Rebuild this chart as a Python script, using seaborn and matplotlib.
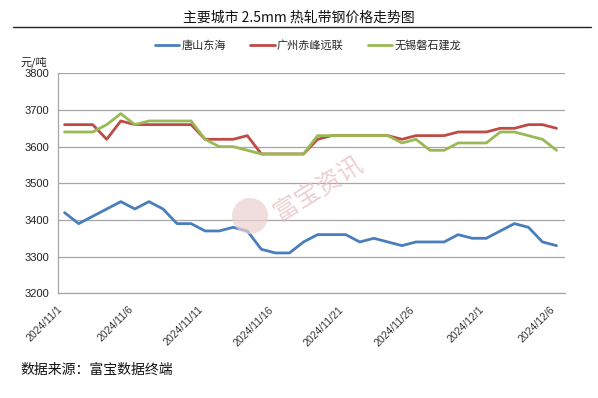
import matplotlib
matplotlib.use("Agg")
import matplotlib.pyplot as plt
import seaborn as sns
import pandas as pd
import numpy as np
from matplotlib.patches import Ellipse
from matplotlib.lines import Line2D

# ---- data ----
dates = pd.date_range("2024-11-01", "2024-12-06", freq="D")
tick_labels = ["2024/11/1", "2024/11/6", "2024/11/11", "2024/11/16",
               "2024/11/21", "2024/11/26", "2024/12/1", "2024/12/6"]
series_names = ["唐山东海", "广州赤峰远联", "无锡磐石建龙"]
tangshan = [3420, 3390, 3410, 3430, 3450, 3430, 3450, 3430, 3390, 3390,
            3370, 3370, 3380, 3370, 3320, 3310, 3310, 3340, 3360, 3360,
            3360, 3340, 3350, 3340, 3330, 3340, 3340, 3340, 3360, 3350,
            3350, 3370, 3390, 3380, 3340, 3330]
guangzhou = [3660, 3660, 3660, 3620, 3670, 3660, 3660, 3660, 3660, 3660,
             3620, 3620, 3620, 3630, 3580, 3580, 3580, 3580, 3620, 3630,
             3630, 3630, 3630, 3630, 3620, 3630, 3630, 3630, 3640, 3640,
             3640, 3650, 3650, 3660, 3660, 3650]
wuxi = [3640, 3640, 3640, 3660, 3690, 3660, 3670, 3670, 3670, 3670,
        3620, 3600, 3600, 3590, 3580, 3580, 3580, 3580, 3630, 3630,
        3630, 3630, 3630, 3630, 3610, 3620, 3590, 3590, 3610, 3610,
        3610, 3640, 3640, 3630, 3620, 3590]
colors = ["#4A7EBB", "#BE4B48", "#98B954"]

# ---- build long table ----
day_idx = (dates - dates[0]).days.values
frames = []
for name, vals in zip(series_names, [tangshan, guangzhou, wuxi]):
    frames.append(pd.DataFrame({"x": day_idx + 0.5, "price": vals, "series": name}))
df = pd.concat(frames, ignore_index=True)

sns.set_theme(style="white")
plt.rcParams["font.family"] = ["Noto Sans CJK SC", "DejaVu Sans"]
plt.rcParams["axes.unicode_minus"] = False

fig = plt.figure(figsize=(5.98, 3.98), dpi=100)
ax = fig.add_axes([0.0962, 0.2631, 0.8486, 0.5527])

sns.lineplot(data=df, x="x", y="price", hue="series", hue_order=series_names,
             palette=colors, linewidth=2.0, ax=ax, legend=False, zorder=3)

ax.set_xlim(0, 36.1)
ax.set_ylim(3200, 3800)
ax.set_yticks(np.arange(3200, 3801, 100))
ax.set_xticks(np.arange(0, 36, 5))
ax.set_xticklabels(tick_labels, rotation=45, ha="right", va="top",
                   rotation_mode="anchor", fontsize=7.5, color="#333333",
                   family=["Liberation Sans", "DejaVu Sans"])
for lab in ax.get_yticklabels():
    lab.set_family(["Liberation Sans", "DejaVu Sans"])
    lab.set_fontsize(8)
    lab.set_color("#222222")
ax.set_xlabel("")
ax.set_ylabel("")

ax.grid(axis="y", color="#A6A6A6", linewidth=0.9)
ax.grid(axis="x", visible=False)
for side in ["top", "right"]:
    ax.spines[side].set_visible(False)
ax.spines["left"].set_color("#A6A6A6")
ax.spines["bottom"].set_color("#A6A6A6")
ax.spines["left"].set_linewidth(0.9)
ax.spines["bottom"].set_linewidth(0.9)
ax.tick_params(axis="both", which="both", direction="out", length=4,
               width=0.9, color="#A6A6A6", pad=2)
ax.tick_params(axis="x", pad=4)

# title and rule
fig.text(0.5, 0.957, "主要城市 2.5mm 热轧带钢价格走势图", ha="center", va="center",
         fontsize=10, color="#111111")
fig.add_artist(Line2D([0.022, 0.988], [0.932, 0.932], color="#222222",
                      linewidth=1.0, transform=fig.transFigure))

# legend
handles = [Line2D([0], [0], color=c, linewidth=2.0) for c in colors]
fig.legend(handles, series_names, loc="center", bbox_to_anchor=(0.515, 0.885),
           ncol=3, frameon=False, fontsize=8, handlelength=2.2,
           columnspacing=2.2, handletextpad=0.2)

# unit label
fig.text(0.035, 0.843, "元/吨", ha="left", va="center", fontsize=8, color="#222222")

# source
fig.text(0.035, 0.07, "数据来源：富宝数据终端", ha="left", va="center",
         fontsize=10, color="#111111")

# watermark
circ = Ellipse((250 / 598, 1 - 216 / 398), 36 / 598, 36 / 398,
               transform=fig.transFigure, facecolor="#EBCFCF",
               edgecolor="none", alpha=0.7, zorder=1)
fig.add_artist(circ)
fig.text(318 / 598, 1 - 188 / 398, "富宝资讯", ha="center", va="center",
         rotation=32, fontsize=18, color="#E8C0C0", alpha=0.75, zorder=1)

fig.savefig("out.png", dpi=100)
